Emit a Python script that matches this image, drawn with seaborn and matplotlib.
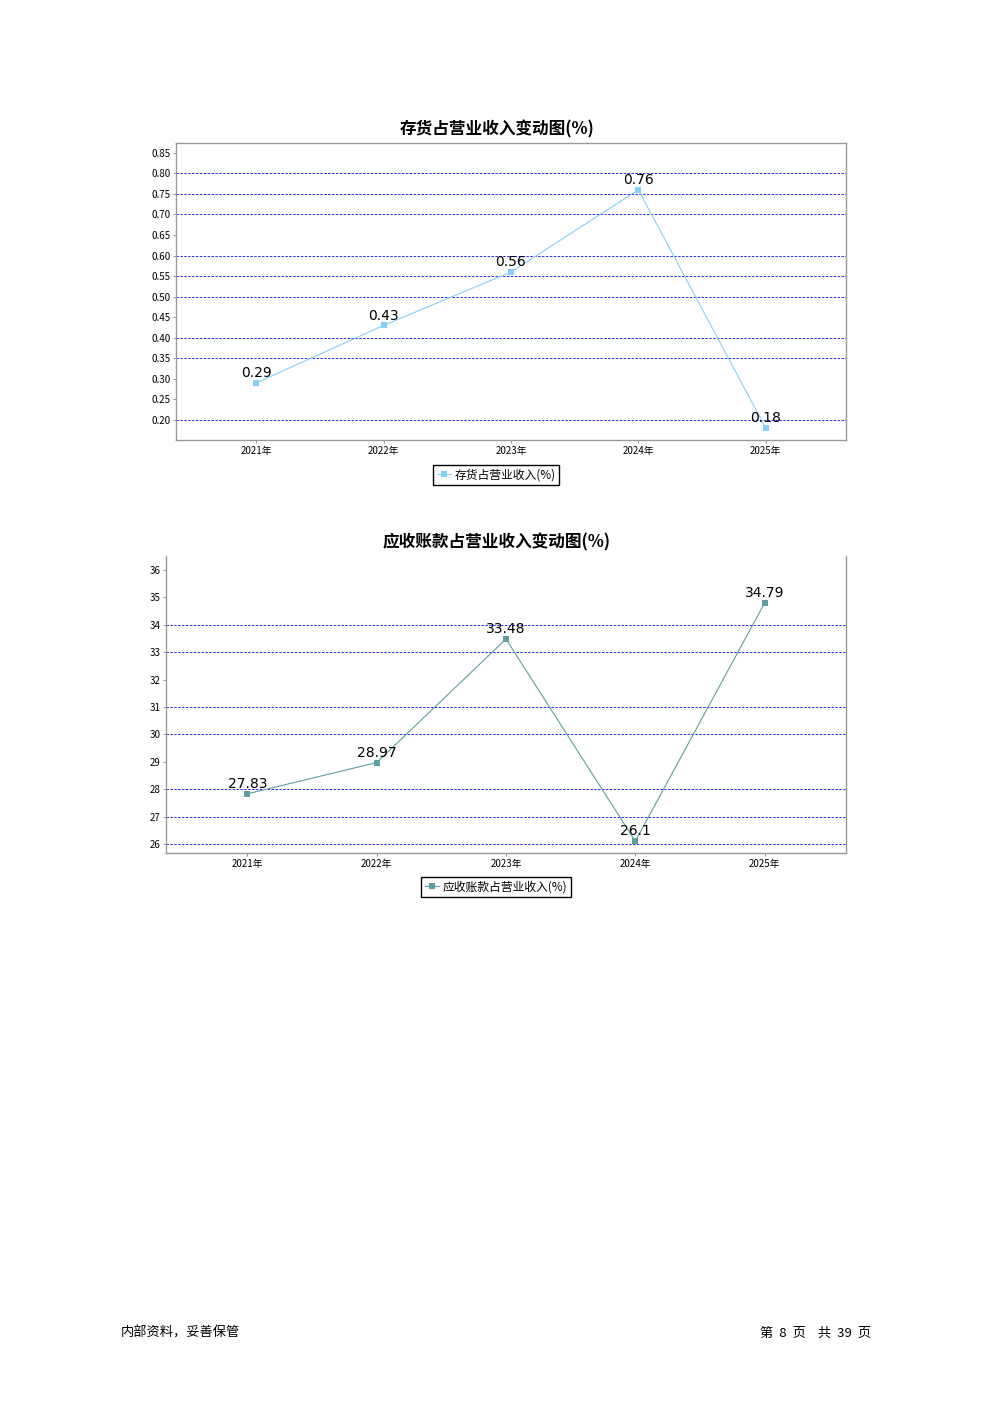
import pandas as pd
import seaborn as sns
import numpy as np
import matplotlib.pyplot as plt
from matplotlib.lines import Line2D

years = ['2021年', '2022年', '2023年', '2024年', '2025年']
inventory_ratio = [0.29, 0.43, 0.56, 0.76, 0.18]
receivable_ratio = [27.83, 28.97, 33.48, 26.1, 34.79]

inv_ticks = [0.20, 0.25, 0.30, 0.35, 0.40, 0.45, 0.50, 0.55, 0.60, 0.65, 0.70, 0.75, 0.80, 0.85]
rec_ticks = [26, 27, 28, 29, 30, 31, 32, 33, 34, 35, 36]
# grid lines that actually show up in the reference
inv_grid = [0.20, 0.35, 0.40, 0.50, 0.55, 0.60, 0.70, 0.75, 0.80]
rec_grid = [26, 27, 28, 30, 31, 33, 34]

sns.set_style('white')
plt.rcParams['font.family'] = ['Noto Sans CJK SC', 'DejaVu Sans']
plt.rcParams['text.color'] = 'black'
plt.rcParams['xtick.color'] = 'black'
plt.rcParams['ytick.color'] = 'black'

W, H = 992, 1403
fig = plt.figure(figsize=(W / 100, H / 100), dpi=100)


def px(x0, y0, x1, y1):
    return [x0 / W, 1 - y1 / H, (x1 - x0) / W, (y1 - y0) / H]


def draw(ax, values, color, ticks, grid, ylim, fmt, title, title_y, label, legend_y, top_spine=True):
    df = pd.DataFrame({'year': years, 'value': values})
    sns.lineplot(data=df, x='year', y='value', ax=ax, color=color, marker='s',
                 markersize=5, markeredgewidth=0, linewidth=0.8, sort=False)
    for i, v in enumerate(values):
        ax.annotate(f'{v:g}', (i, v), xytext=(0, 2), textcoords='offset points',
                    ha='center', va='bottom', fontsize=10, family='DejaVu Sans',
                    color='black')
    for g in grid:
        ax.axhline(g, color='#2a2af0', linestyle=(0, (2.5, 1.5)), linewidth=0.7, zorder=0)
    ax.set_xlim(-0.63, 4.63)
    ax.set_ylim(*ylim)
    ax.set_yticks(ticks)
    ax.set_yticklabels([fmt.format(t) for t in ticks])
    ax.set_xlabel('')
    ax.set_ylabel('')
    ax.tick_params(axis='both', labelsize=7, length=2, width=0.6, color='#888888',
                   labelcolor='black', pad=2, direction='out', left=True, bottom=True)
    for name, sp in ax.spines.items():
        sp.set_color('#999999')
        sp.set_linewidth(1.0)
    ax.spines['top'].set_visible(top_spine)
    fig.text(497 / W, 1 - title_y / H, title, ha='center', va='center',
             fontsize=12, fontweight='bold', color='black')
    handle = Line2D([], [], color=color, marker='s', markersize=5,
                    markeredgewidth=0, linewidth=0.8)
    fig.legend([handle], [label], loc='center', bbox_to_anchor=(496 / W, 1 - legend_y / H),
               fontsize=8.5, frameon=True, fancybox=False, edgecolor='black',
               handlelength=1.2, handletextpad=0.3, borderpad=0.3, framealpha=1)
    ax.legend_ = None


ax1 = fig.add_axes(px(176, 143, 846, 440))
draw(ax1, inventory_ratio, '#87cefa', inv_ticks, inv_grid, (0.151, 0.874), '{:.2f}',
     '存货占营业收入变动图(%)', 129, '存货占营业收入(%)', 475)

ax2 = fig.add_axes(px(166, 556, 846, 853))
draw(ax2, receivable_ratio, '#5f9ea0', rec_ticks, rec_grid, (25.67, 36.51), '{:d}',
     '应收账款占营业收入变动图(%)', 542, '应收账款占营业收入(%)', 887, top_spine=False)

fig.text(121 / W, 1 - 1333 / H, '内部资料，妥善保管', ha='left', va='center', fontsize=9.5)
fig.text(871 / W, 1 - 1333 / H, '第  8  页    共  39  页', ha='right', va='center', fontsize=9.5)

fig.savefig('out.png', dpi=100)
